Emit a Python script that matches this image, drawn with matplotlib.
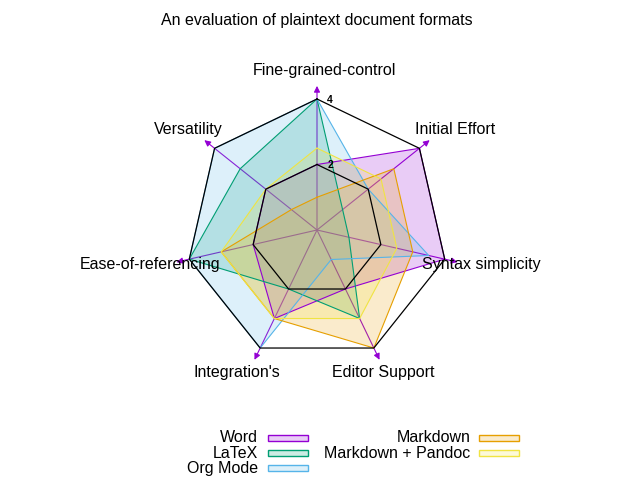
import numpy as np
import matplotlib
matplotlib.use("Agg")
import matplotlib.pyplot as plt
from matplotlib.patches import Rectangle

# ---- data ----
axes_labels = ["Fine-grained-control", "Initial Effort", "Syntax simplicity",
               "Editor Support", "Integration's", "Ease-of-referencing", "Versatility"]
series_names = ["Word", "LaTeX", "Org Mode", "Markdown", "Markdown + Pandoc"]
word = [2, 4, 4, 2, 3, 2, 2]
latex = [4, 1, 1, 3, 2, 4, 3]
orgmode = [4, 2, 3.5, 1, 4, 4, 4]
markdown = [1, 3, 3, 4, 3, 3, 1]
md_pandoc = [2.5, 2.5, 2.5, 3, 3, 3, 2]
series_values = [word, latex, orgmode, markdown, md_pandoc]
colors = ["#9400d3", "#009e73", "#56b4e9", "#e69f00", "#f0e442"]
grid_levels = [2, 4]
grid_labels = ["2", "4"]
rmax_axis = 4.4

FONT = "Liberation Sans"
plt.rcParams['font.family'] = [FONT, 'DejaVu Sans']

W, H = 640, 480
fig = plt.figure(figsize=(6.4, 4.8), dpi=100)

def fx(px):
    return px / W

def fy(py):
    return 1 - py / H

LW = 0.8

# polar axes: center at (317,230) px, r=4 -> 131 px
cx, cy = 317, 230
scale = 131 / 4.0
rad_px = rmax_axis * scale
ax = fig.add_axes([fx(cx - rad_px), fy(cy + rad_px), 2 * rad_px / W, 2 * rad_px / H],
                  projection="polar")
ax.set_theta_offset(np.pi / 2)
ax.set_theta_direction(-1)
ax.set_ylim(0, rmax_axis)
ax.grid(False)
ax.set_xticks([])
ax.set_yticks([])
ax.spines["polar"].set_visible(False)
ax.patch.set_alpha(0)

n = len(axes_labels)
theta = np.arange(n) * 2 * np.pi / n
theta_c = np.append(theta, theta[0])

# axes arrows
for t in theta:
    ax.annotate("", xy=(t, rmax_axis), xytext=(t, 0),
                arrowprops=dict(arrowstyle="-|>", color="#9400d3", lw=LW,
                                mutation_scale=9, shrinkA=0, shrinkB=0),
                zorder=2, annotation_clip=False)

# series
for name, vals, col in zip(series_names, series_values, colors):
    v = np.append(vals, vals[0])
    ax.fill(theta_c, v, facecolor=col, alpha=0.2, zorder=4, clip_on=False)
    ax.plot(theta_c, v, color=col, lw=LW, zorder=5, clip_on=False)

# grid heptagons (on top)
for lvl in grid_levels:
    ax.plot(theta_c, [lvl] * (n + 1), color="black", lw=LW + 0.1, zorder=6, clip_on=False)

# grid labels on top axis
for lvl, lab in zip(grid_levels, grid_labels):
    ax.annotate(lab, xy=(0, lvl), xytext=(9.4, -0.5), textcoords="offset points",
                ha="center", va="center", fontsize=7.5, fontweight="bold",
                annotation_clip=False, zorder=7)

# axis labels (pixel positions)
label_pos = [(324, 70), (455, 130), (481, 265), (383, 373),
             (236.5, 373), (150.5, 265), (188.5, 130)]
for lab, (px, py) in zip(axes_labels, label_pos):
    fig.text(fx(px), fy(py), lab, ha="center", va="center", fontsize=11.5)

# title
fig.text(fx(317), fy(20), "An evaluation of plaintext document formats",
         ha="center", va="center", fontsize=11.5)

# legend (custom, gnuplot style)
col_text_right = [258, 470.5]
col_patch_left = [268, 479]
row_y = [438, 453, 468]
entries = [(0, 0), (0, 1), (0, 2), (1, 0), (1, 1)]
for (c, r), name, col in zip(entries, series_names, colors):
    yc = row_y[r]
    fig.text(fx(col_text_right[c]), fy(yc + 4.5), name, ha="right", va="baseline",
             fontsize=11.5)
    rect = Rectangle((fx(col_patch_left[c]), fy(yc + 3)), 40 / W, 6 / H,
                     transform=fig.transFigure,
                     facecolor=matplotlib.colors.to_rgba(col, 0.2),
                     edgecolor=col, lw=1.0)
    fig.patches.append(rect)

fig.savefig("out.png", dpi=100)
